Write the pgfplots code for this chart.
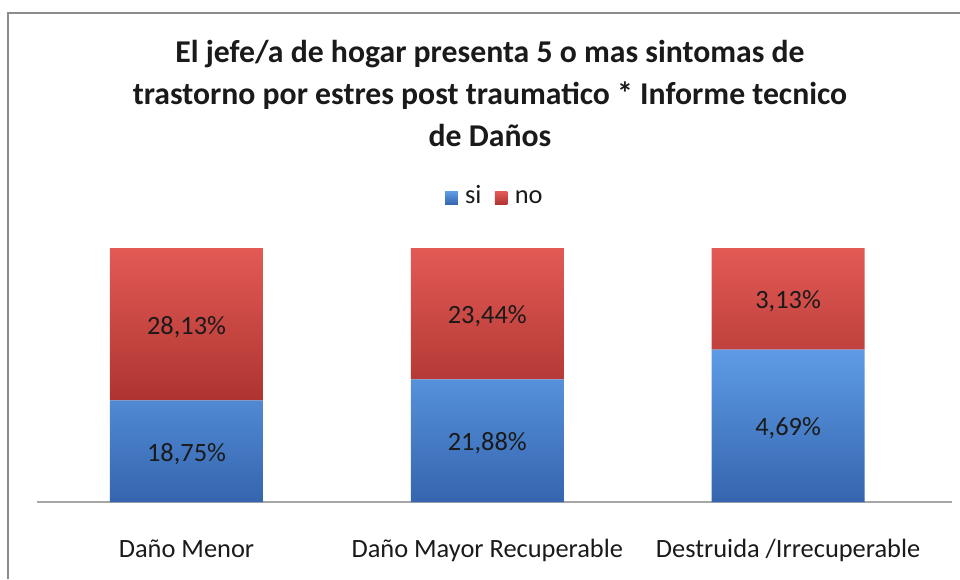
\documentclass[border=0pt]{standalone}
\usepackage{fontspec}
\setmainfont{Carlito}
\usepackage{pgfplots}
\usepackage{pgfplotstable}
\pgfplotsset{compat=1.18}

\definecolor{bluetop}{HTML}{5E9BE6}
\definecolor{bluemid}{HTML}{4680D0}
\definecolor{bluebot}{HTML}{3565AE}
\definecolor{redtop}{HTML}{E35A55}
\definecolor{redmid}{HTML}{D24441}
\definecolor{redbot}{HTML}{AE3431}
\definecolor{framegray}{HTML}{8C8C8C}
\definecolor{txt}{HTML}{1A1A1A}

% informe tecnico de danos: si / no (percent of total)
\pgfplotstableread{
x  si     no     silab  nolab
0  18.75  28.13  18,75  28,13
1  21.88  23.44  21,88  23,44
2  4.69   3.13   4,69   3,13
}\danos

\pgfplotsset{
  base/.style={
    at={(27.75pt,57.75pt)}, anchor=south west,
    scale only axis,
    width=686.25pt, height=190.5pt,
    xmin=-0.497, xmax=2.545,
    ymin=0, ymax=100,
    clip=false,
  },
}

\begin{document}
\begin{tikzpicture}
\path[use as bounding box] (0,0) rectangle (720pt,434.25pt);
\draw[framegray, line width=1.5pt] (6pt,0) -- (6pt,424.5pt) -- (720pt,424.5pt);

\node[txt, align=center, font=\fontsize{23.8}{31.5}\selectfont\bfseries]
  at (367.5pt,364.5pt)
  {El jefe/a de hogar presenta 5 o mas sintomas de\\
   trastorno por estres post traumatico * Informe tecnico\\
   de Daños};

\begin{axis}[
  base,
  ybar stacked,
  bar width=114.75pt,
  axis y line=none,
  axis x line*=bottom,
  x axis line style={gray!70, line width=0.9pt},
  xtick=data,
  xticklabels={Daño Menor, Daño Mayor Recuperable, Destruida /Irrecuperable},
  xticklabel style={font=\fontsize{19.8}{24}\selectfont, text=txt, anchor=base, yshift=-41.25pt},
  major tick length=0pt,
  legend columns=2,
  legend style={at={(0.5,1.19)}, anchor=center, draw=none, fill=none,
    font=\fontsize{19.8}{24}\selectfont, text=txt,
    nodes={text height=1.5ex, text depth=0.25ex, inner xsep=1pt},
    /tikz/every even column/.append style={column sep=9pt}},
  legend image code/.code={\fill[#1] (0pt,-3.5pt) rectangle (9.5pt,6pt);
    \path (0pt,0pt) -- (14pt,0pt);},
]
\addplot[draw=none, top color=bluetop, middle color=bluemid, bottom color=bluebot]
  table[x=x, y expr=100*\thisrow{si}/(\thisrow{si}+\thisrow{no})] {\danos};
\addlegendentry{si}
\addplot[draw=none, top color=redtop, middle color=redmid, bottom color=redbot]
  table[x=x, y expr=100*\thisrow{no}/(\thisrow{si}+\thisrow{no})] {\danos};
\addlegendentry{no}
\end{axis}

\begin{axis}[base, axis lines=none]
\addplot[draw=none, mark=none, nodes near coords, point meta=explicit symbolic,
  every node near coord/.style={anchor=center, yshift=-2pt, text=txt, font=\fontsize{19.8}{24}\selectfont},
  nodes near coords={\pgfplotspointmeta\%}]
  table[x=x, y expr=50*\thisrow{si}/(\thisrow{si}+\thisrow{no}), meta=silab] {\danos};
\addplot[draw=none, mark=none, nodes near coords, point meta=explicit symbolic,
  every node near coord/.style={anchor=center, yshift=-2pt, text=txt, font=\fontsize{19.8}{24}\selectfont},
  nodes near coords={\pgfplotspointmeta\%}]
  table[x=x, y expr=100*\thisrow{si}/(\thisrow{si}+\thisrow{no})+50*\thisrow{no}/(\thisrow{si}+\thisrow{no}), meta=nolab] {\danos};
\end{axis}
\end{tikzpicture}
\end{document}
